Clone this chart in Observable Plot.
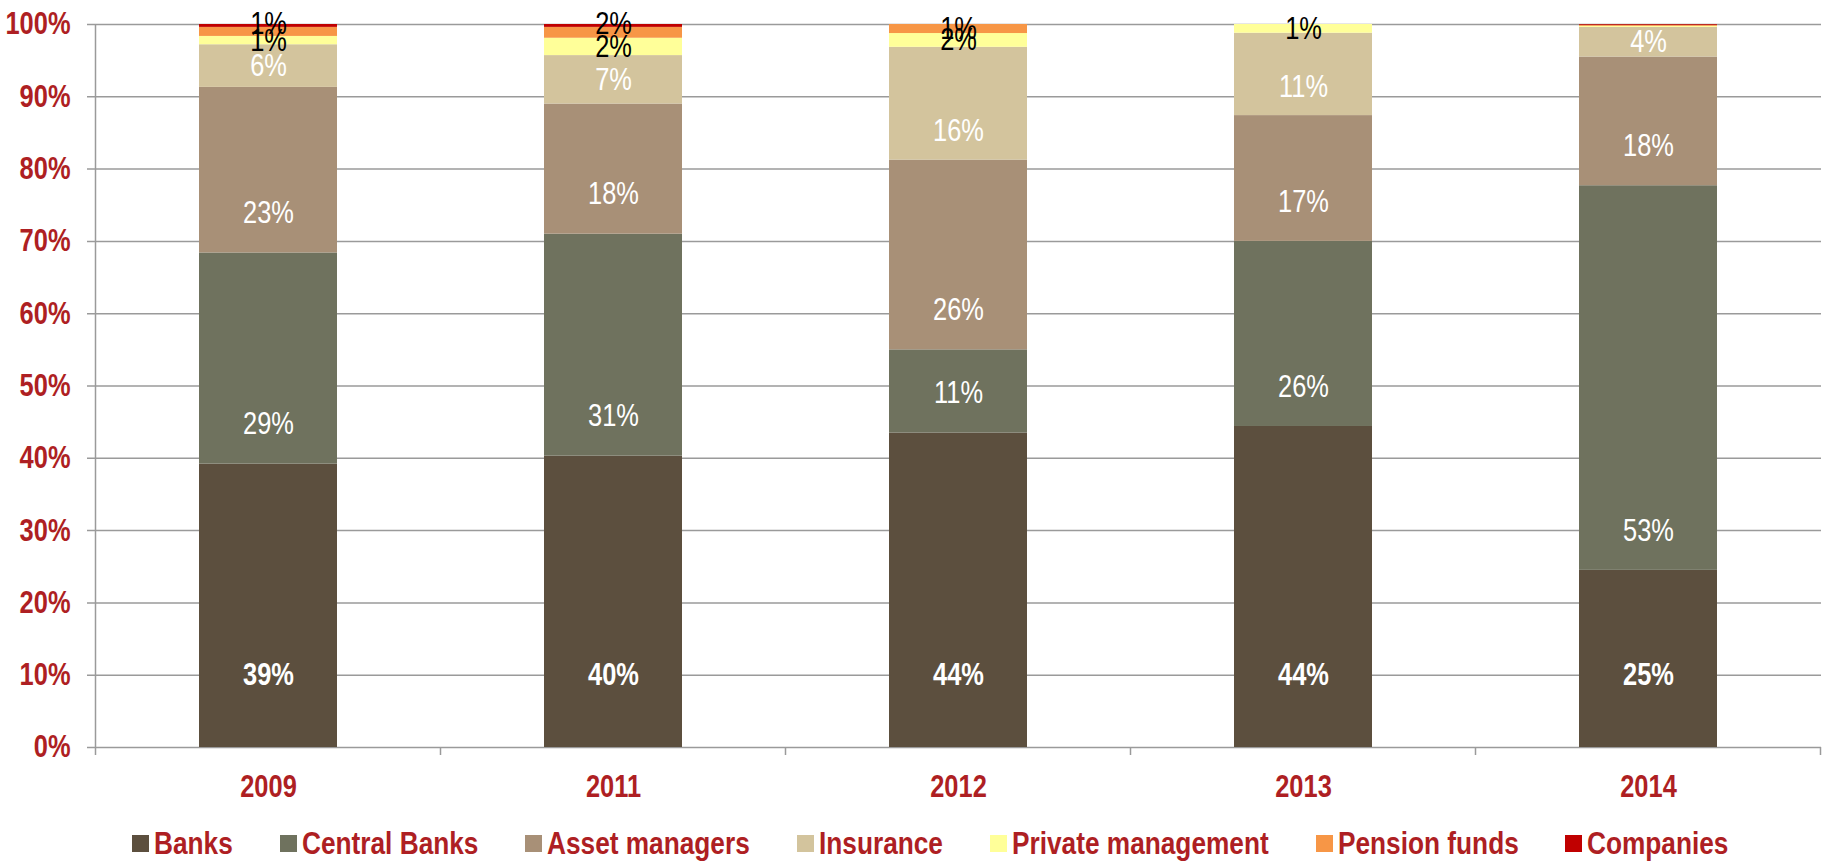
<!DOCTYPE html>
<html><head><meta charset="utf-8">
<script src="https://cdn.jsdelivr.net/npm/d3@7"></script>
<script src="https://cdn.jsdelivr.net/npm/@observablehq/plot@0.6"></script>
<style>
body{margin:0;background:#fff;}
#wrap{position:relative;width:1831px;height:862px;overflow:hidden;}
#legend{position:absolute;left:132px;top:823px;height:40px;display:flex;align-items:center;gap:47px;font-family:"Liberation Sans",Arial,sans-serif;font-weight:bold;font-size:32px;color:#AE1F23;white-space:nowrap;}
.item{display:flex;align-items:center;}
.sw{width:17px;height:17px;margin-right:5px;flex:none;}
.tw{display:inline-block;overflow:visible;}
.tx{display:inline-block;transform-origin:0 50%;}
</style></head><body><div id="wrap"></div>
<script>
// ---- data ----
const years = ["2009", "2011", "2012", "2013", "2014"];
const series = ["Banks", "Central Banks", "Asset managers", "Insurance", "Private management", "Pension funds", "Companies"];
const colors = ["#5C4F3E", "#6F725E", "#A89077", "#D3C49D", "#FFFF99", "#F79646", "#C00000"];

const banks        = [39.2, 40.3, 43.5, 44.4, 24.5];
const centralBanks = [29.2, 30.7, 11.5, 25.6, 53.2];
const assetMgrs    = [22.9, 18.0, 26.25, 17.4, 17.8];
const insurance    = [5.9, 6.7, 15.6, 11.4, 4.1];
const privateMgmt  = [1.15, 2.4, 1.9, 1.2, 0.15];
const pensionFunds = [1.25, 1.5, 1.25, 0, 0.15];
const companies    = [0.4, 0.4, 0, 0, 0.1];

const banksLbl     = ["39%", "40%", "44%", "44%", "25%"];
const cbLbl        = ["29%", "31%", "11%", "26%", "53%"];
const amLbl        = ["23%", "18%", "26%", "17%", "18%"];
const insLbl       = ["6%", "7%", "16%", "11%", "4%"];
const privLbl      = ["1%", "2%", "2%", "1%", ""];
const pensionLbl   = ["", "", "1%", "", ""];
const compLbl      = ["1%", "2%", "", "", ""];

const yTicks = [0, 10, 20, 30, 40, 50, 60, 70, 80, 90, 100];
const yTickLabels = ["0%", "10%", "20%", "30%", "40%", "50%", "60%", "70%", "80%", "90%", "100%"];

// ---- build table ----
const values = [banks, centralBanks, assetMgrs, insurance, privateMgmt, pensionFunds, companies];
const labels = [banksLbl, cbLbl, amLbl, insLbl, privLbl, pensionLbl, compLbl];
const rows = [];
years.forEach((yr, j) => {
  let base = 0;
  series.forEach((s, i) => {
    const v = values[i][j];
    rows.push({year: yr, series: s, value: v, base, label: labels[i][j]});
    base += v;
  });
});
// labels sit a little above the segment base, or at the middle for short segments
const baseLift = s => s === "Banks" ? 10 : s === "Insurance" ? 4 : 5.5;
const labelY = d => Math.min(d.base + d.value / 2, d.base + baseLift(d.series));

const RED = "#AE1F23";
const GRID = "#9A9A9A";
const FONT = "'Liberation Sans',Arial,sans-serif";
const NARROW = 0.82;
const FS = 31;

function boundaryTicks(index, scales) {
  const x = scales.x, y = scales.y;
  const bw = typeof x.bandwidth === "function" ? x.bandwidth() : x.bandwidth;
  const step = x(years[1]) - x(years[0]);
  const pad = (step - bw) / 2;
  const edges = years.map(v => x(v) - pad).concat([x(years[years.length - 1]) + bw + pad]);
  const y0 = y(0), yTop = y(100);
  const g = d3.create("svg:g").attr("stroke", GRID).attr("stroke-width", 1.5);
  g.selectAll("line").data(edges).join("line")
    .attr("x1", d => d).attr("x2", d => d)
    .attr("y1", (d, i) => i === 0 ? yTop : y0)
    .attr("y2", y0 + 8);
  return g.node();
}

const plot = Plot.plot({
  width: 1831,
  height: 800,
  marginLeft: 95,
  marginRight: 10,
  marginTop: 24,
  marginBottom: 53,
  style: {fontFamily: FONT, background: "white", overflow: "visible"},
  x: {domain: years, paddingInner: 0.6, paddingOuter: 0.3, label: null},
  y: {domain: [0, 100], label: null},
  color: {domain: series, range: colors},
  marks: [
    Plot.ruleY(yTicks, {stroke: GRID, strokeWidth: 1.5, insetLeft: -8}),
    Plot.barY(rows, {x: "year", y: "value", fill: "series"}),
    boundaryTicks,
    Plot.axisY({ticks: yTicks, tickFormat: (d) => yTickLabels[yTicks.indexOf(d)], tickSize: 0, tickPadding: 25,
      fontSize: FS, fontWeight: "bold", fill: RED, fontFamily: FONT, label: null}),
    Plot.axisX({tickSize: 0, tickPadding: 27, fontSize: FS, fontWeight: "bold", fill: RED, fontFamily: FONT, label: null}),
    Plot.text(rows.filter(d => d.series === "Banks" && d.label), {x: "year", y: labelY, text: "label",
      fill: "white", fontSize: FS, fontWeight: "bold", fontFamily: FONT}),
    Plot.text(rows.filter(d => ["Central Banks", "Asset managers", "Insurance"].includes(d.series) && d.label), {x: "year", y: labelY, text: "label",
      fill: "white", fontSize: FS, fontFamily: FONT}),
    Plot.text(rows.filter(d => ["Private management", "Pension funds"].includes(d.series) && d.label), {x: "year", y: labelY, text: "label",
      fill: "black", fontSize: FS, fontFamily: FONT}),
    Plot.text(rows.filter(d => d.series === "Companies" && d.label), {x: "year", y: labelY, text: "label", dy: -2,
      fill: "black", fontSize: FS, fontFamily: FONT})
  ]
});

const wrap = document.getElementById("wrap");
wrap.appendChild(plot);
// condense text (narrow face look)
plot.querySelectorAll("text").forEach(t => {
  const w = t.getComputedTextLength();
  if (w > 0) {
    t.setAttribute("textLength", (w * NARROW).toFixed(2));
    t.setAttribute("lengthAdjust", "spacingAndGlyphs");
  }
});

const legend = document.createElement("div");
legend.id = "legend";
series.forEach((s, i) => {
  const it = document.createElement("div");
  it.className = "item";
  const sw = document.createElement("span");
  sw.className = "sw";
  sw.style.background = colors[i];
  const tw = document.createElement("span");
  tw.className = "tw";
  const tx = document.createElement("span");
  tx.className = "tx";
  tx.textContent = s;
  tw.appendChild(tx);
  it.appendChild(sw); it.appendChild(tw);
  legend.appendChild(it);
});
wrap.appendChild(legend);
legend.querySelectorAll(".tw").forEach(tw => {
  const tx = tw.firstChild;
  const w = tx.getBoundingClientRect().width;
  tw.style.width = (w * NARROW).toFixed(2) + "px";
  tx.style.transform = `scaleX(${NARROW})`;
});
</script>
</body></html>
